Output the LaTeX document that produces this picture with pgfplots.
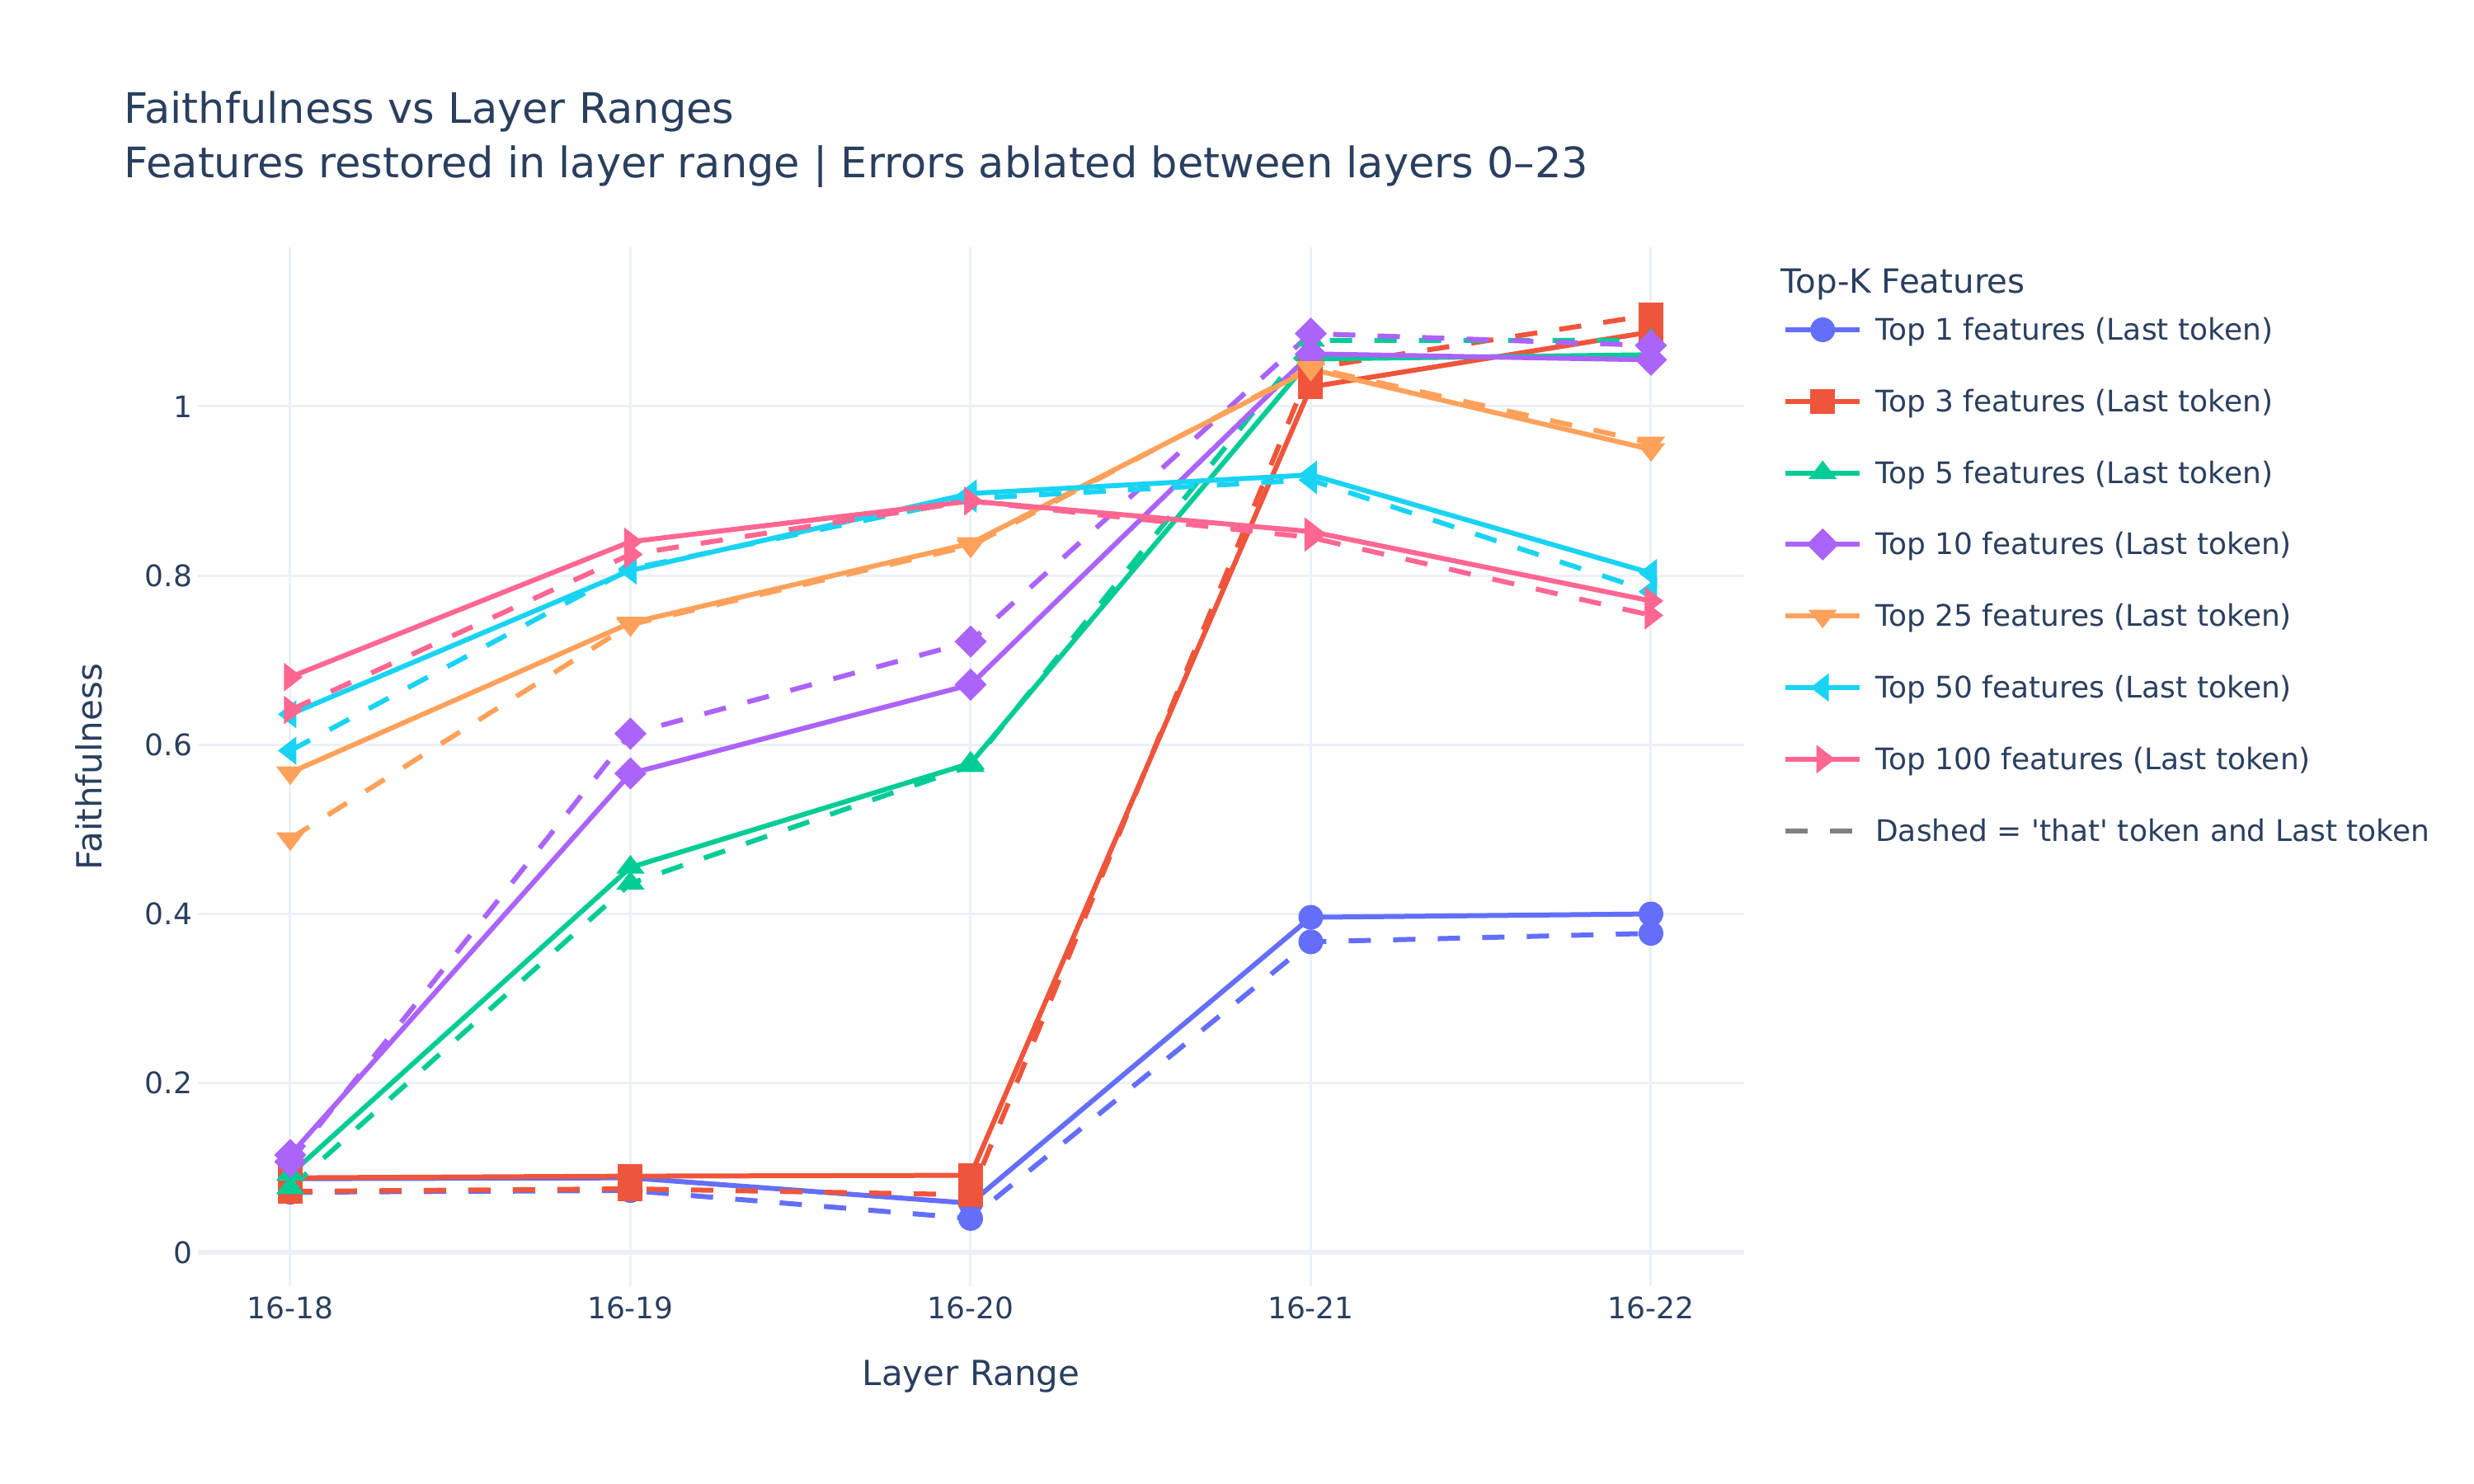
\documentclass[border=0pt]{standalone}
\usepackage{fontspec}
\setmainfont{DejaVu Sans}[Ligatures=TeXOff]
\usepackage{pgfplots}
\pgfplotsset{compat=1.18}

\definecolor{txt}{HTML}{2A3F5F}
\definecolor{gridc}{HTML}{EBF0F8}
\definecolor{c1}{HTML}{636EFA}
\definecolor{c3}{HTML}{EF553B}
\definecolor{c5}{HTML}{00CC96}
\definecolor{c10}{HTML}{AB63FA}
\definecolor{c25}{HTML}{FFA15A}
\definecolor{c50}{HTML}{19D3F3}
\definecolor{c100}{HTML}{FF6692}
\definecolor{dgray}{HTML}{808080}

% plotly-like marker shapes (fill only)
\pgfdeclareplotmark{pcirc}{\pgfpathcircle{\pgfpointorigin}{\pgfplotmarksize}\pgfusepathqfill}
\pgfdeclareplotmark{psq}{\pgfpathrectangle{\pgfqpoint{-\pgfplotmarksize}{-\pgfplotmarksize}}{\pgfqpoint{2\pgfplotmarksize}{2\pgfplotmarksize}}\pgfusepathqfill}
\pgfdeclareplotmark{pdia}{%
  \pgfpathmoveto{\pgfqpoint{0pt}{1.3\pgfplotmarksize}}%
  \pgfpathlineto{\pgfqpoint{1.3\pgfplotmarksize}{0pt}}%
  \pgfpathlineto{\pgfqpoint{0pt}{-1.3\pgfplotmarksize}}%
  \pgfpathlineto{\pgfqpoint{-1.3\pgfplotmarksize}{0pt}}%
  \pgfpathclose\pgfusepathqfill}
\pgfdeclareplotmark{ptup}{%
  \pgfpathmoveto{\pgfqpoint{0pt}{\pgfplotmarksize}}%
  \pgfpathlineto{\pgfqpoint{1.1547\pgfplotmarksize}{-0.5\pgfplotmarksize}}%
  \pgfpathlineto{\pgfqpoint{-1.1547\pgfplotmarksize}{-0.5\pgfplotmarksize}}%
  \pgfpathclose\pgfusepathqfill}
\pgfdeclareplotmark{ptdown}{%
  \pgfpathmoveto{\pgfqpoint{0pt}{-\pgfplotmarksize}}%
  \pgfpathlineto{\pgfqpoint{1.1547\pgfplotmarksize}{0.5\pgfplotmarksize}}%
  \pgfpathlineto{\pgfqpoint{-1.1547\pgfplotmarksize}{0.5\pgfplotmarksize}}%
  \pgfpathclose\pgfusepathqfill}
\pgfdeclareplotmark{ptleft}{%
  \pgfpathmoveto{\pgfqpoint{-\pgfplotmarksize}{0pt}}%
  \pgfpathlineto{\pgfqpoint{0.5\pgfplotmarksize}{1.1547\pgfplotmarksize}}%
  \pgfpathlineto{\pgfqpoint{0.5\pgfplotmarksize}{-1.1547\pgfplotmarksize}}%
  \pgfpathclose\pgfusepathqfill}
\pgfdeclareplotmark{ptright}{%
  \pgfpathmoveto{\pgfqpoint{\pgfplotmarksize}{0pt}}%
  \pgfpathlineto{\pgfqpoint{-0.5\pgfplotmarksize}{1.1547\pgfplotmarksize}}%
  \pgfpathlineto{\pgfqpoint{-0.5\pgfplotmarksize}{-1.1547\pgfplotmarksize}}%
  \pgfpathclose\pgfusepathqfill}

\pgfplotsset{
  dsh/.style={dash pattern=on 6.75pt off 6.75pt, forget plot},
}

\begin{document}
\begin{tikzpicture}
\path[use as bounding box] (0,0) rectangle (750pt,450pt);

\begin{axis}[
  at={(60pt,60pt)}, anchor=south west,
  scale only axis, width=468.75pt, height=315pt,
  xmin=-0.2715, xmax=4.274, ymin=-0.040, ymax=1.188,
  xtick={0,1,2,3,4},
  xticklabels={16-18,16-19,16-20,16-21,16-22},
  ytick={0.2,0.4,0.6,0.8,1},
  yticklabels={0.2,0.4,0.6,0.8,1},
  extra y ticks={0}, extra y tick labels={0},
  extra y tick style={grid=major, major grid style={gridc, line width=1.5pt}},
  grid=major, major grid style={gridc, line width=0.75pt},
  axis line style={draw=none}, major tick length=0pt,
  tick label style={font=\fontsize{9}{10.8}\selectfont, text=txt},
  xticklabel style={anchor=base, inner sep=0pt, yshift=-10pt},
  yticklabel style={anchor=east, inner sep=0pt, xshift=-1.5pt},
  /pgf/number format/assume math mode=true,
  clip=false,
  every axis plot/.append style={line width=1.5pt, mark size=3.75pt},
  legend image code/.code={%
    \draw[mark repeat=2, mark phase=2, #1] plot coordinates {(0pt,0pt) (11.25pt,0pt) (22.5pt,0pt)};},
  legend cell align=left,
  legend style={at={(1.02517,0.94013)}, anchor=north west, draw=none, fill=none,
    inner sep=0pt, outer sep=0pt, row sep=9.42pt, column sep=4pt,
    nodes={inner sep=0pt, text height=9.28pt, text depth=3pt,
      font=\fontsize{9}{10.8}\selectfont, text=txt}},
]

% Top 1
\addplot[c1, mark=pcirc] coordinates {(0,0.087) (1,0.088) (2,0.058) (3,0.396) (4,0.400)};
\addlegendentry{Top 1 features (Last token)}
\addplot[c1, mark=pcirc, dsh] coordinates {(0,0.071) (1,0.073) (2,0.040) (3,0.367) (4,0.377)};

% Top 3
\addplot[c3, mark=psq] coordinates {(0,0.088) (1,0.090) (2,0.091) (3,1.023) (4,1.088)};
\addlegendentry{Top 3 features (Last token)}
\addplot[c3, mark=psq, dsh] coordinates {(0,0.072) (1,0.075) (2,0.068) (3,1.045) (4,1.108)};

% Top 5
\addplot[c5, mark=ptup] coordinates {(0,0.092) (1,0.455) (2,0.578) (3,1.056) (4,1.061)};
\addlegendentry{Top 5 features (Last token)}
\addplot[c5, mark=ptup, dsh] coordinates {(0,0.076) (1,0.436) (2,0.575) (3,1.078) (4,1.078)};

% Top 10
\addplot[c10, mark=pdia] coordinates {(0,0.115) (1,0.566) (2,0.671) (3,1.062) (4,1.055)};
\addlegendentry{Top 10 features (Last token)}
\addplot[c10, mark=pdia, dsh] coordinates {(0,0.107) (1,0.613) (2,0.722) (3,1.086) (4,1.072)};

% Top 25
\addplot[c25, mark=ptdown] coordinates {(0,0.567) (1,0.744) (2,0.838) (3,1.044) (4,0.949)};
\addlegendentry{Top 25 features (Last token)}
\addplot[c25, mark=ptdown, dsh] coordinates {(0,0.489) (1,0.742) (2,0.835) (3,1.046) (4,0.957)};

% Top 50
\addplot[c50, mark=ptleft] coordinates {(0,0.636) (1,0.806) (2,0.897) (3,0.919) (4,0.803)};
\addlegendentry{Top 50 features (Last token)}
\addplot[c50, mark=ptleft, dsh] coordinates {(0,0.593) (1,0.808) (2,0.891) (3,0.913) (4,0.781)};

% Top 100
\addplot[c100, mark=ptright] coordinates {(0,0.680) (1,0.840) (2,0.888) (3,0.852) (4,0.770)};
\addlegendentry{Top 100 features (Last token)}
\addplot[c100, mark=ptright, dsh] coordinates {(0,0.641) (1,0.825) (2,0.888) (3,0.845) (4,0.753)};

\addlegendimage{dgray, line width=1.5pt, dash pattern=on 6.75pt off 6.75pt, no marks}
\addlegendentry{Dashed = 'that' token and Last token}
\end{axis}

\node[anchor=base west, inner sep=0pt, text=txt, font=\fontsize{12.75}{15}\selectfont] at (37.5pt,412.5pt) {Faithfulness vs Layer Ranges};
\node[anchor=base west, inner sep=0pt, text=txt, font=\fontsize{12.75}{15}\selectfont] at (37.5pt,396pt) {Features restored in layer range | Errors ablated between layers 0–23};
\node[anchor=base west, inner sep=0pt, text=txt, font=\fontsize{10.1}{12}\selectfont] at (539.75pt,361.2pt) {Top-K Features};
\node[anchor=base, inner sep=0pt, text=txt, font=\fontsize{10.5}{12.6}\selectfont] at (294.375pt,29.75pt) {Layer Range};
\node[rotate=90, anchor=base, inner sep=0pt, text=txt, font=\fontsize{10.5}{12.6}\selectfont] at (30.8pt,217.5pt) {Faithfulness};
\end{tikzpicture}
\end{document}
